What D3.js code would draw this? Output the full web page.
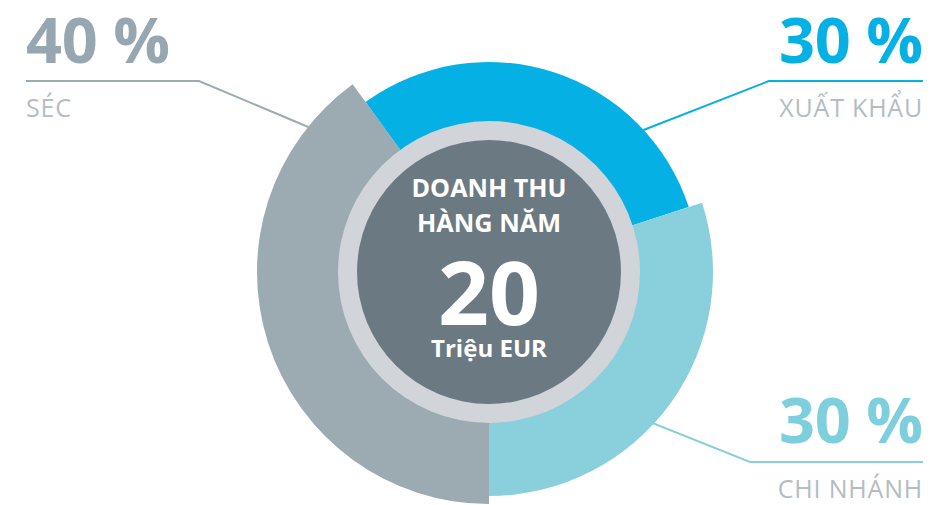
<!DOCTYPE html>
<html>
<head>
<meta charset="utf-8">
<script src="https://cdn.jsdelivr.net/npm/d3@7"></script>
<style>
  html, body { margin: 0; padding: 0; background: #ffffff; }
  svg { display: block; }
  text { font-family: "Open Sans", "Noto Sans", sans-serif; }
</style>
</head>
<body>
<svg id="chart" width="931" height="505"></svg>
<script>
// Revenue split by channel
const categories = ["SÉC", "XUẤT KHẨU", "CHI NHÁNH"];
const values = [40, 30, 30];
const valueLabels = ["40 %", "30 %", "30 %"];
const totalValue = "20";
const titleLines = ["DOANH THU", "HÀNG NĂM"];
const unitLabel = "Triệu EUR";

// Appearance
const sliceColors = ["#9caab2", "#05b1e4", "#89cfdc"];
const labelColors = ["#97a7b2", "#05b1e4", "#7dcfdc"];
const subLabelColor = "#b5bcc3";
const outerRadii = [232, 210, 224];
const sliceInner = 148;
const ringOuter = 151, ringInner = 132;

const W = 931, H = 505;
const cx = 489, cy = 272;

// Label blocks: text anchor side, baseline of the big number, leader line
const labelLayout = [
  { anchor: "start", x: 26,  y: 63,  lineY: 81,  lineFrom: 26,  lineTo: 199, leaderAngle: -51 },
  { anchor: "end",   x: 923, y: 63,  lineY: 81,  lineFrom: 923, lineTo: 769, leaderAngle: 47 },
  { anchor: "end",   x: 923, y: 443, lineY: 462, lineFrom: 923, lineTo: 750, leaderAngle: 133 }
];

const svg = d3.select("#chart");

const pie = d3.pie().sort(null).value(d => d)
  .startAngle(Math.PI).endAngle(3 * Math.PI);
const arcs = pie(values);

const g = svg.append("g").attr("transform", `translate(${cx},${cy})`);

// Leader lines (drawn first so slices cover their ends)
labelLayout.forEach((L, i) => {
  const [px, py] = d3.pointRadial(L.leaderAngle * Math.PI / 180, outerRadii[i] - 4);
  svg.append("polyline")
    .attr("points", [[L.lineFrom, L.lineY], [L.lineTo, L.lineY], [px + cx, py + cy]].map(p => p.join(",")).join(" "))
    .attr("fill", "none")
    .attr("stroke", sliceColors[i])
    .attr("stroke-width", 2);
});

// Slices, each with its own outer radius
g.selectAll("path.slice")
  .data(arcs)
  .join("path")
  .attr("class", "slice")
  .attr("fill", (d, i) => sliceColors[i])
  .attr("d", (d, i) => d3.arc().innerRadius(sliceInner).outerRadius(outerRadii[i])(d));

// Light ring and dark core
g.append("circle").attr("r", ringOuter).attr("fill", "#d1d4d9");
g.append("circle").attr("r", ringInner).attr("fill", "#6b7a82");

// Centre text
const center = g.append("g").attr("fill", "#ffffff").attr("text-anchor", "middle").attr("font-weight", 700);
center.append("text").attr("y", 197 - cy).attr("font-size", 25)
  .attr("textLength", 155).attr("lengthAdjust", "spacingAndGlyphs").text(titleLines[0]);
center.append("text").attr("y", 232 - cy).attr("font-size", 25)
  .attr("textLength", 144).attr("lengthAdjust", "spacingAndGlyphs").text(titleLines[1]);
center.append("text").attr("y", 325 - cy).attr("font-size", 88)
  .attr("textLength", 102).attr("lengthAdjust", "spacingAndGlyphs").text(totalValue);
center.append("text").attr("y", 357 - cy).attr("font-size", 24)
  .attr("textLength", 116).attr("lengthAdjust", "spacingAndGlyphs").text(unitLabel);

// Outer labels
labelLayout.forEach((L, i) => {
  svg.append("text")
    .attr("x", L.x).attr("y", L.y)
    .attr("text-anchor", L.anchor)
    .attr("font-size", 63).attr("font-weight", 700)
    .attr("textLength", 144).attr("lengthAdjust", "spacing")
    .attr("fill", labelColors[i])
    .text(valueLabels[i]);
  svg.append("text")
    .attr("x", L.x).attr("y", L.lineY + 36)
    .attr("text-anchor", L.anchor)
    .attr("font-size", 25)
    .attr("letter-spacing", 0.8)
    .attr("fill", subLabelColor)
    .text(categories[i]);
});
</script>
</body>
</html>
